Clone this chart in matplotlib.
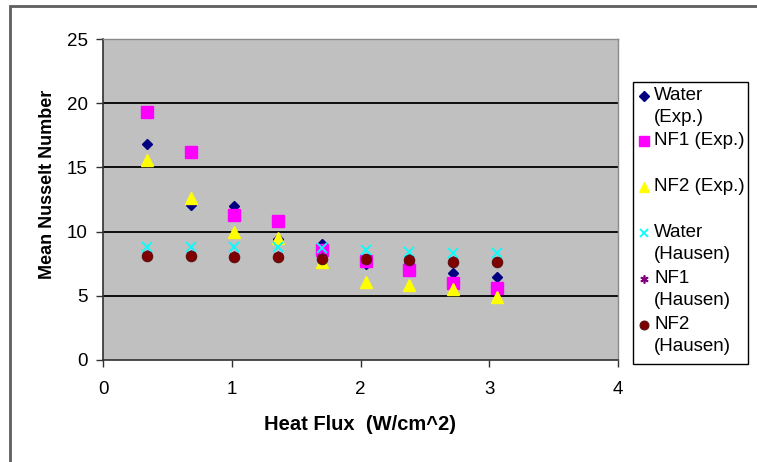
import matplotlib
matplotlib.use("Agg")
import matplotlib.pyplot as plt
from matplotlib.patches import Rectangle
from matplotlib.lines import Line2D

plt.rcParams['font.family'] = ['Liberation Sans', 'DejaVu Sans']

# Heat flux (W/cm^2)
heat_flux = [0.34, 0.68, 1.02, 1.36, 1.70, 2.04, 2.38, 2.72, 3.06]

# Mean Nusselt number per series
water_exp = [16.8, 12.1, 12.0, 9.4, 9.0, 7.5, 7.5, 6.75, 6.5]
nf1_exp = [19.3, 16.2, 11.3, 10.8, 8.6, 7.7, 7.0, 6.0, 5.6]
nf2_exp = [15.6, 12.6, 10.0, 9.5, 7.6, 6.1, 5.85, 5.5, 4.9]
water_hausen = [8.8, 8.8, 8.8, 8.8, 8.7, 8.6, 8.4, 8.3, 8.3]
nf1_hausen = [8.2, 8.2, 8.1, 8.1, 8.0, 7.9, 7.85, 7.7, 7.65]
nf2_hausen = [8.1, 8.1, 8.05, 8.0, 7.9, 7.85, 7.8, 7.65, 7.6]

series_labels = ["Water\n(Exp.)", "NF1 (Exp.)", "NF2 (Exp.)",
                 "Water\n(Hausen)", "NF1\n(Hausen)", "NF2\n(Hausen)"]
y_ticks = [0, 5, 10, 15, 20, 25]
x_ticks = [0, 1, 2, 3, 4]

W, H = 757, 462
fig = plt.figure(figsize=(W / 100, H / 100), dpi=100)
fig.patch.set_facecolor("white")

# outer chart frame
fig.patches.append(Rectangle((10 / W, -0.2), 1.2, 1 - 6 / H + 0.2,
                             transform=fig.transFigure, fill=False,
                             edgecolor="#5f5f5f", linewidth=2.0,
                             clip_on=False, zorder=0))

ax = fig.add_axes([103 / W, 1 - 360 / H, (618 - 103) / W, (360 - 39) / H])
ax.set_facecolor("#C0C0C0")
ax.set_xlim(0, 4)
ax.set_ylim(0, 25)
ax.set_xticks(x_ticks)
ax.set_yticks(y_ticks)
ax.tick_params(axis="both", direction="out", length=5, width=1,
               color="#303030", labelsize=13.5, labelcolor="black", pad=6)
ax.tick_params(axis="x", pad=10)
for yv in y_ticks[1:-1]:
    ax.axhline(yv, color="black", linewidth=1.3, zorder=1)

for side in ["top", "right"]:
    ax.spines[side].set_color("#8a8a8a")
    ax.spines[side].set_linewidth(1.0)
ax.spines["left"].set_color("#303030")
ax.spines["bottom"].set_color("#303030")
ax.spines["left"].set_linewidth(1.2)
ax.spines["bottom"].set_linewidth(1.2)

ax.set_xlabel("Heat Flux  (W/cm^2)", fontsize=14.5, fontweight="bold", labelpad=12)
ax.set_ylabel("Mean Nusselt Number", fontsize=13, fontweight="bold", labelpad=8)
ax.yaxis.label.set_y(0.548)

styles = [
    dict(marker="D", color="#000080", ms=5.5, mec="#000080"),
    dict(marker="s", color="#FF00FF", ms=8, mec="#FF00FF"),
    dict(marker="^", color="#FFFF00", ms=8.5, mec="#FFFF00"),
    dict(marker="x", color="#00FFFF", ms=7, mec="#00FFFF", mew=1.3),
    dict(marker=(6, 2, 0), color="#800080", ms=7, mec="#800080", mew=1.2),
    dict(marker="o", color="#800000", ms=7.5, mec="#5a1010", mew=0.8),
]
all_series = [water_exp, nf1_exp, nf2_exp, water_hausen, nf1_hausen, nf2_hausen]

for i, (vals, st) in enumerate(zip(all_series, styles)):
    ax.plot(heat_flux, vals, linestyle="none", marker=st["marker"],
            markersize=st["ms"], markerfacecolor=st["color"],
            markeredgecolor=st["mec"], markeredgewidth=st.get("mew", 1.0),
            zorder=3 + i)

# legend box with two-line slots
lx0, lx1, ly0, ly1 = 633, 748, 82, 364
fig.patches.append(Rectangle((lx0 / W, 1 - ly1 / H), (lx1 - lx0) / W, (ly1 - ly0) / H,
                             transform=fig.transFigure, facecolor="white",
                             edgecolor="black", linewidth=1.0, zorder=1))
entry_y = [96, 141, 187, 233, 279, 325]
for yy, lab, st in zip(entry_y, series_labels, styles):
    fig.add_artist(Line2D([644 / W], [1 - yy / H], transform=fig.transFigure,
                          linestyle="none", marker=st["marker"],
                          markersize=st["ms"] * 0.85, markerfacecolor=st["color"],
                          markeredgecolor=st["mec"],
                          markeredgewidth=st.get("mew", 1.0), zorder=5))
    fig.text(654 / W, 1 - (yy - 9) / H, lab, fontsize=13.5, va="top", ha="left",
             linespacing=1.4, zorder=5)

fig.savefig("out.png", dpi=100)
